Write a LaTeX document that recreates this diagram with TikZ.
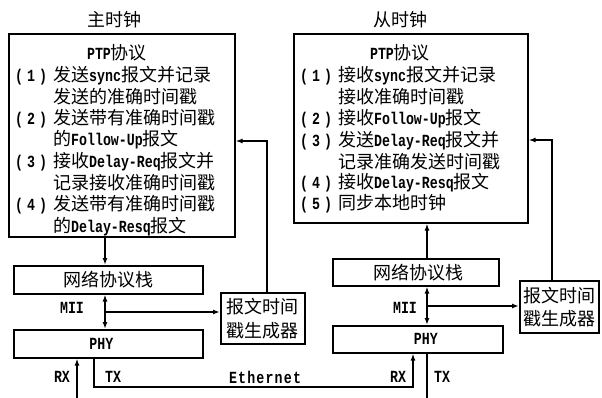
\documentclass[tikz,border=0pt]{standalone}
\usepackage{fontspec}
\setmainfont{Liberation Mono}[FakeStretch=0.78]
\newfontfamily\cjkf{Noto Sans CJK SC}
\usetikzlibrary{arrows.meta}
\newcommand\zh[1]{{\cjkf\mdseries\fontsize{18}{21}\selectfont#1}}
\newcommand\numb[1]{\makebox[32pt]{(\hfill#1\hfill)}\hspace{6pt}}
\tikzset{
  every node/.style={font=\fontsize{17}{20}\selectfont\bfseries},
  box/.style={draw, line width=1.6pt, anchor=north west, inner sep=0pt, align=center},
  ln/.style={anchor=west, inner sep=0pt},
  lbl/.style={inner sep=0pt},
  conn/.style={line width=1.6pt},
  arr/.style={conn, -{Latex[length=7pt,width=5pt]}},
  arrb/.style={conn, {Latex[length=7pt,width=5pt]}-{Latex[length=7pt,width=5pt]}}
}
\begin{document}
\begin{tikzpicture}[x=1pt,y=-1pt]
\useasboundingbox (0,0) rectangle (602,398);
% ---------------- master side ----------------
\node[lbl] (tM) at (114,20) {\zh{主时钟}};
\node[box, minimum width=226pt, minimum height=203pt] (mclk) at (8,33) {};
\node[lbl] (pM) at (117,53) {PTP\zh{协议}};
\node[ln] (m1) at (15,76)  {\numb{1}\zh{发送}sync\zh{报文并记录}};
\node[ln] (m2) at (53,97)  {\zh{发送的准确时间戳}};
\node[ln] (m3) at (15,119) {\numb{2}\zh{发送带有准确时间戳}};
\node[ln] (m4) at (53,140) {\zh{的}Follow-Up\zh{报文}};
\node[ln] (m5) at (15,162) {\numb{3}\zh{接收}Delay-Req\zh{报文并}};
\node[ln] (m6) at (53,183) {\zh{记录接收准确时间戳}};
\node[ln] (m7) at (15,205) {\numb{4}\zh{发送带有准确时间戳}};
\node[ln] (m8) at (53,227) {\zh{的}Delay-Resq\zh{报文}};
\node[box, minimum width=189pt, minimum height=28pt] (stackL) at (13,265) {\zh{网络协议栈}};
\node[box, minimum width=189pt, minimum height=28pt] (phyL) at (13,329) {\hspace*{-14pt}PHY};
\node[box, minimum width=84pt, minimum height=51pt, font=\fontsize{18}{24}\selectfont] (tsL) at (220,292) {\zh{报文时间}\\\zh{戳生成器}};
\node[lbl] (miiL) at (72,308) {MII};
\node[lbl] (rxL) at (62,377) {RX};
\node[lbl] (txL) at (113,377) {TX};
\node[lbl] (eth) at (265,377) {\makebox[72pt][s]{E\hfil t\hfil h\hfil e\hfil r\hfil n\hfil e\hfil t}};
% ---------------- slave side ----------------
\node[lbl] (tS) at (400,20) {\zh{从时钟}};
\node[box, minimum width=234pt, minimum height=189pt] (sclk) at (293,33) {};
\node[lbl] (pS) at (400,53) {PTP\zh{协议}};
\node[ln] (s1) at (300,76)  {\numb{1}\zh{接收}sync\zh{报文并记录}};
\node[ln] (s2) at (338,97)  {\zh{接收准确时间戳}};
\node[ln] (s3) at (300,119) {\numb{2}\zh{接收}Follow-Up\zh{报文}};
\node[ln] (s4) at (300,141) {\numb{3}\zh{发送}Delay-Req\zh{报文并}};
\node[ln] (s5) at (338,162) {\zh{记录准确发送时间戳}};
\node[ln] (s6) at (300,183) {\numb{4}\zh{接收}Delay-Resq\zh{报文}};
\node[ln] (s7) at (300,204) {\numb{5}\zh{同步本地时钟}};
\node[box, minimum width=166pt, minimum height=27pt] (stackR) at (332,258) {\hspace*{6pt}\zh{网络协议栈}};
\node[box, minimum width=170pt, minimum height=27pt] (phyR) at (332,325) {\hspace*{16pt}PHY};
\node[box, minimum width=79pt, minimum height=52pt, font=\fontsize{18}{23}\selectfont] (tsR) at (519,280) {\zh{报文时间}\\\zh{戳生成器}};
\node[lbl] (miiR) at (405,308) {MII};
\node[lbl] (rxR) at (398,377) {RX};
\node[lbl] (txR) at (442,377) {TX};
% ---------------- helper coordinates ----------------
\coordinate (xL) at (105,0);
\coordinate (jL) at (105,312);
\coordinate (cL) at (267,141);
\coordinate (rxLb) at (77,398);
\coordinate (eL) at (94,387);
\coordinate (eR) at (413,387);
\coordinate (xR) at (427,0);
\coordinate (jR) at (427,306);
\coordinate (cR) at (552,140);
\coordinate (txRb) at (427,398);
% ---------------- connectors ----------------
\draw[arr] (mclk.south -| xL) -- (stackL.north -| xL);
\draw[arrb] (stackL.south -| xL) -- (phyL.north -| xL);
\draw[arr] (jL) -- (tsL.west |- jL);
\draw[arr] (tsL.north -| cL) -- (cL) -- (mclk.east |- cL);
\draw[arr] (rxLb) -- (phyL.south -| rxLb);
\draw[arr] (phyL.south -| eL) -- (eL) -- (eR) -- (phyR.south -| eR);
\draw[arr] (stackR.north -| xR) -- (sclk.south -| xR);
\draw[arrb] (stackR.south -| xR) -- (phyR.north -| xR);
\draw[arr] (jR) -- (tsR.west |- jR);
\draw[arr] (tsR.north -| cR) -- (cR) -- (sclk.east |- cR);
\draw[conn] (phyR.south -| txRb) -- (txRb);
\end{tikzpicture}
\end{document}
